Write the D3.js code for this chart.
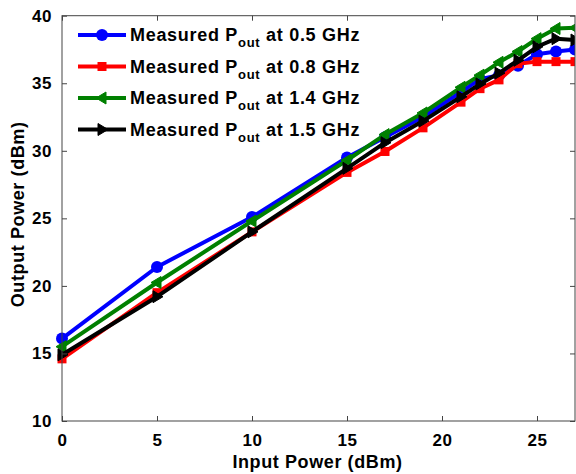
<!DOCTYPE html>
<html>
<head>
<meta charset="utf-8">
<script src="https://cdn.jsdelivr.net/npm/d3@7"></script>
<style>
  body { margin: 0; background: #fff; }
  text { font-family: "Liberation Sans", Arial, sans-serif; font-weight: bold; }
</style>
</head>
<body>
<svg id="chart" width="576" height="474"></svg>
<script>
// Input power sweep (dBm)
const inputPower = [0, 5, 10, 15, 17, 19, 21, 22, 23, 24, 25, 26, 27];
// Measured output power (dBm) per frequency
const pout05 = [16.1, 21.4, 25.1, 29.5, 31.0, 32.5, 34.35, 35.3, 35.6, 36.3, 37.15, 37.35, 37.5];
const pout08 = [14.6, 19.5, 24.0, 28.4, 29.95, 31.7, 33.6, 34.6, 35.25, 36.45, 36.6, 36.6, 36.6];
const pout14 = [15.5, 20.25, 24.8, 29.3, 31.2, 32.8, 34.7, 35.6, 36.55, 37.35, 38.3, 39.05, 39.1];
const pout15 = [14.9, 19.2, 24.0, 28.7, 30.6, 32.2, 34.0, 34.95, 35.75, 36.7, 37.7, 38.3, 38.2];
const freqLabels = ["0.5", "0.8", "1.4", "1.5"];
const xTicks = [0, 5, 10, 15, 20, 25];
const yTicks = [10, 15, 20, 25, 30, 35, 40];

(function() {
  const svg = d3.select("#chart");
  const margin = { left: 62, right: 1, top: 15.7, bottom: 53 };
  const width = +svg.attr("width"), height = +svg.attr("height");
  const innerW = width - margin.left - margin.right;
  const innerH = height - margin.top - margin.bottom;

  const x = d3.scaleLinear().domain([0, 27]).range([0, innerW]);
  const y = d3.scaleLinear().domain([10, 40]).range([innerH, 0]);

  const g = svg.append("g").attr("transform", `translate(${margin.left},${margin.top})`);

  const series = [
    { vals: pout05, color: "#0000ff", marker: "circle" },
    { vals: pout08, color: "#ff0000", marker: "square" },
    { vals: pout14, color: "#008000", marker: "left" },
    { vals: pout15, color: "#000000", marker: "right" }
  ];

  function drawMarker(sel, type, color) {
    if (type === "circle") {
      sel.append("circle").attr("r", 6).attr("fill", color);
    } else if (type === "square") {
      sel.append("rect").attr("x", -4.5).attr("y", -4.5).attr("width", 9).attr("height", 9).attr("fill", color);
    } else if (type === "left") {
      sel.append("path").attr("d", "M-6,0L4,-6L4,6Z").attr("fill", color).attr("stroke", color).attr("stroke-width", 1);
    } else {
      sel.append("path").attr("d", "M6,0L-4,-6L-4,6Z").attr("fill", color).attr("stroke", color).attr("stroke-width", 1);
    }
  }

  const line = d3.line().x((d, i) => x(inputPower[i])).y(d => y(d));

  svg.append("clipPath").attr("id", "clip").append("rect")
    .attr("x", -8).attr("y", -8).attr("width", innerW + 8).attr("height", innerH + 16);

  const plot = g.append("g").attr("clip-path", "url(#clip)");
  series.forEach(s => {
    plot.append("path")
      .datum(s.vals)
      .attr("fill", "none")
      .attr("stroke", s.color)
      .attr("stroke-width", 4)
      .attr("stroke-linejoin", "round")
      .attr("d", line);
    s.vals.forEach((v, i) => {
      const m = plot.append("g").attr("transform", `translate(${x(inputPower[i])},${y(v)})`);
      drawMarker(m, s.marker, s.color);
    });
  });

  // Axes box with inward ticks
  const axisColor = "#444";
  g.append("rect").attr("width", innerW).attr("height", innerH)
    .attr("fill", "none").attr("stroke", axisColor).attr("stroke-width", 1);

  const xb = g.append("g").attr("transform", `translate(0,${innerH})`)
    .call(d3.axisBottom(x).tickValues(xTicks).tickSizeInner(-5).tickSizeOuter(0).tickPadding(13));
  const xt = g.append("g")
    .call(d3.axisTop(x).tickValues(xTicks).tickSizeInner(-5).tickSizeOuter(0).tickFormat(""));
  const yl = g.append("g")
    .call(d3.axisLeft(y).tickValues(yTicks).tickSizeInner(-5).tickSizeOuter(0).tickPadding(10));
  const yr = g.append("g").attr("transform", `translate(${innerW},0)`)
    .call(d3.axisRight(y).tickValues(yTicks).tickSizeInner(-5).tickSizeOuter(0).tickFormat(""));

  [xb, xt, yl, yr].forEach(a => {
    a.select(".domain").remove();
    a.selectAll(".tick line").attr("stroke", axisColor);
    a.selectAll("text").attr("font-size", 17).attr("fill", "#000")
      .attr("letter-spacing", 0.6)
      .attr("font-family", "Liberation Sans, Arial, sans-serif").attr("font-weight", "bold");
  });

  // Axis titles
  svg.append("text")
    .attr("x", margin.left + innerW / 2 - 1)
    .attr("y", 468)
    .attr("text-anchor", "middle")
    .attr("font-size", 18)
    .attr("letter-spacing", 0.6)
    .text("Input Power (dBm)");

  svg.append("text")
    .attr("transform", `translate(24,${margin.top + innerH / 2 - 4}) rotate(-90)`)
    .attr("text-anchor", "middle")
    .attr("font-size", 18)
    .attr("letter-spacing", 0.6)
    .text("Output Power (dBm)");

  // Legend
  const legend = svg.append("g");
  series.forEach((s, i) => {
    const row = legend.append("g").attr("transform", `translate(78,${35 + i * 31.5})`);
    row.append("line").attr("x1", 0).attr("x2", 48).attr("stroke", s.color).attr("stroke-width", 4);
    drawMarker(row.append("g").attr("transform", "translate(24,0)"), s.marker, s.color);
    const t = row.append("text").attr("x", 52).attr("y", 6).attr("font-size", 18).attr("letter-spacing", 0.7);
    t.append("tspan").text("Measured P");
    t.append("tspan").attr("font-size", 13).attr("dy", 6).text("out");
    t.append("tspan").attr("dy", -6).text(` at ${freqLabels[i]} GHz`);
  });
})();
</script>
</body>
</html>
